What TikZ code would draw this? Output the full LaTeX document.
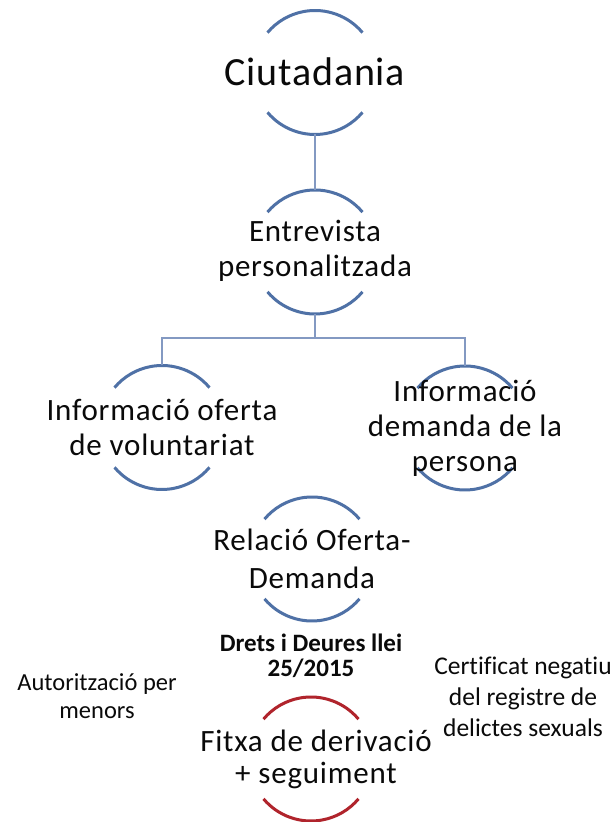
\documentclass[tikz,border=0pt]{standalone}
\usepackage{fontspec}
\setmainfont{Carlito}[Ligatures=NoCommon]
\newfontfamily\wideA[LetterSpace=2,Ligatures=NoCommon]{Carlito}
\newfontfamily\wideB[LetterSpace=2.5,Ligatures=NoCommon]{Carlito}
\definecolor{arcblue}{RGB}{79,113,166}
\definecolor{arcred}{RGB}{176,36,44}
\definecolor{connblue}{RGB}{131,153,194}
\definecolor{textcol}{RGB}{10,10,10}
\tikzset{
  ring/.style={circle, minimum size=124pt, inner sep=0pt, outer sep=0pt},
  arcb/.style={draw=arcblue, line width=3pt},
  arcr/.style={draw=arcred, line width=3pt},
  conn/.style={draw=connblue, line width=2.6pt},
  lbl/.style={align=center, text=textcol, inner sep=0pt},
  biglbl/.style={lbl, font=\wideA\fontsize{40}{44}\selectfont},
  midlbl/.style={lbl, font=\wideB\fontsize{31}{35}\selectfont},
  smalllbl/.style={lbl, font=\fontsize{24.5}{28}\selectfont},
}
\begin{document}
\begin{tikzpicture}[x=1pt,y=1pt]
\fill[white] (0,0) rectangle (613,822);
\useasboundingbox (0,0) rectangle (613,822);

% circles (invisible frames for arcs)
\node[ring] (ciu) at (315,749.5) {};
\node[ring] (ent) at (315,570) {};
\node[ring] (ofe) at (162,394.5) {};
\node[ring] (dem) at (465,394) {};
\node[ring] (rel) at (312,263) {};
\node[ring] (fit) at (311,63) {};

% arcs
\foreach \n in {ciu,ent,ofe,dem,rel}{
  \draw[arcb] (\n.40) arc[start angle=40, end angle=140, radius=62pt];
  \draw[arcb] (\n.220) arc[start angle=220, end angle=320, radius=62pt];
}
\draw[arcr] (fit.40) arc[start angle=40, end angle=140, radius=62pt];
\draw[arcr] (fit.220) arc[start angle=220, end angle=320, radius=62pt];

% connectors
\coordinate (bus) at (315,484);
\draw[conn] (ciu.south) -- (ent.north);
\draw[conn] (ent.south) -- (bus);
\draw[conn] (ofe.north) |- (bus) -| (dem.north);

% labels
\node[biglbl] (tciu) at (315,750) {Ciutadania};
\node[midlbl] (tent) at (315,571) {Entrevista\\personalitzada};
\node[midlbl] (tofe) at (162,395) {Informació oferta\\de voluntariat};
\node[midlbl] (tdem) at (465,394) {Informació\\demanda de la\\persona};
\node[lbl, font=\wideB\fontsize{31}{38}\selectfont] (trel) at (312,263) {Relació Oferta-\\Demanda};
\node[lbl, font=\bfseries\fontsize{25}{25}\selectfont] (tdre) at (311,166) {Drets i Deures llei\\25/2015};
\node[smalllbl] (taut) at (97,126) {Autorització per\\menors};
\node[lbl, font=\fontsize{25.5}{31}\selectfont] (tcer) at (523,125) {Certificat negatiu\\del registre de\\delictes sexuals};
\node[lbl, font=\wideB\fontsize{31}{32}\selectfont] (tfit) at (316,63) {Fitxa de derivació\\+ seguiment};
\end{tikzpicture}
\end{document}
